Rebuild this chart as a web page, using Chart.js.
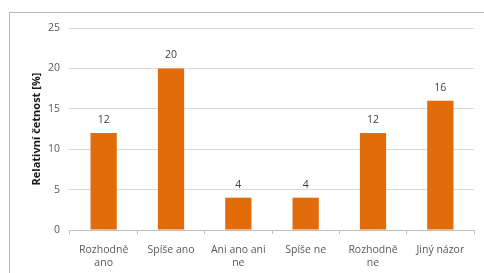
<!DOCTYPE html>
<html><head><meta charset="utf-8">
<script src="https://cdn.jsdelivr.net/npm/chart.js@4/dist/chart.umd.min.js"></script>
<style>html,body{margin:0;padding:0;background:#fff;}#wrap{position:relative;width:484px;height:273px;}</style>
</head><body><div id="wrap"><canvas id="c" width="484" height="273"></canvas></div>
<script>
const categories = [["Rozhodně","ano"],"Spíše ano",["Ani ano ani","ne"],"Spíše ne",["Rozhodně","ne"],"Jiný názor"];
const values = [12,20,4,4,12,16];
const yTicks = [0,5,10,15,20,25];
const yTitle = "Relativní četnost [%]";
const FONT = "'Open Sans', Lato, sans-serif";

const frame = {
  id:'frame',
  beforeDraw(chart){
    const c = chart.ctx; c.save();
    c.strokeStyle='#b8b8b8'; c.lineWidth=1;
    c.strokeRect(9.5,12.5,490,300);
    c.restore();
  }
};
const labels = {
  id:'labels',
  afterDatasetsDraw(chart){
    const c = chart.ctx; c.save();
    c.fillStyle='#404040'; c.font='10.5px '+FONT; c.textAlign='center'; c.textBaseline='middle';
    chart.getDatasetMeta(0).data.forEach((b,i)=>{ c.fillText(String(values[i]), b.x, b.y-13); });
    c.restore();
  }
};

new Chart(document.getElementById('c'),{
  type:'bar',
  data:{labels:categories,datasets:[{data:values,backgroundColor:'#E36C0A',categoryPercentage:1,barPercentage:0.39}]},
  options:{
    responsive:false,animation:false,
    layout:{padding:{left:30,right:10,top:28,bottom:0}},
    plugins:{legend:{display:false},tooltip:{enabled:false}},
    scales:{
      x:{
        grid:{drawOnChartArea:false,drawTicks:true,tickLength:4,color:'#bfbfbf',offset:true},
        border:{color:'#bfbfbf'},
        ticks:{color:'#595959',font:{family:FONT,size:10.5,lineHeight:1.3},padding:9,maxRotation:0,autoSkip:false},
        afterFit(s){s.height=43;}
      },
      y:{
        min:0,max:25,
        afterBuildTicks(s){s.ticks=yTicks.map(v=>({value:v}));},
        grid:{color:'#d9d9d9',drawTicks:true,tickLength:2},
        border:{display:false},
        ticks:{color:'#595959',font:{family:FONT,size:10.5},padding:8},
        title:{display:true,text:yTitle,color:'#1a1a1a',font:{family:FONT,size:11,weight:'bold'},padding:0},
        afterFit(s){s.width=40;}
      }
    }
  },
  plugins:[frame,labels]
});
</script></body></html>
